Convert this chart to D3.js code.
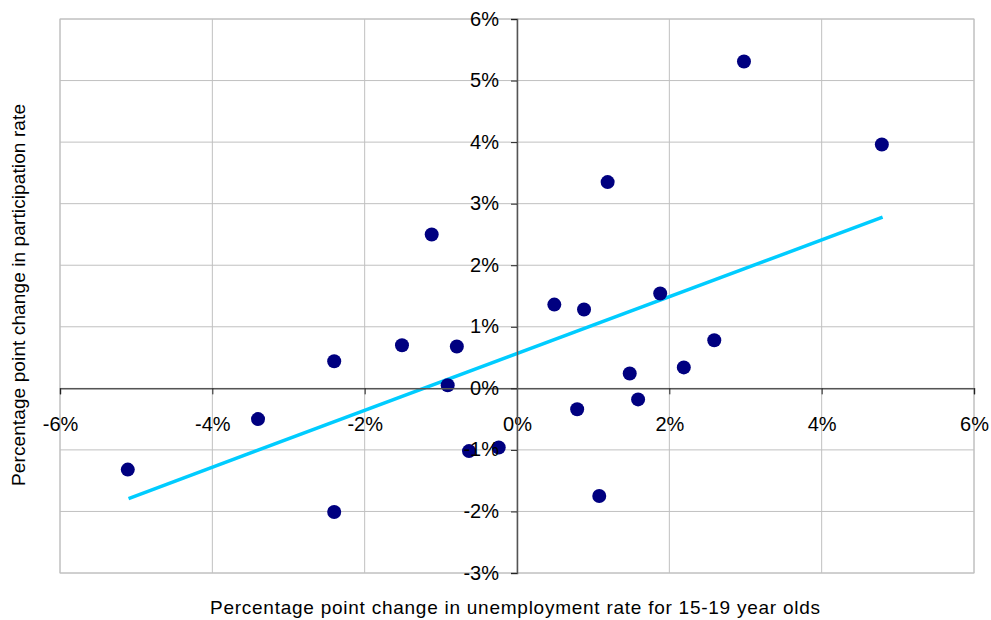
<!DOCTYPE html>
<html>
<head>
<meta charset="utf-8">
<script src="https://cdn.jsdelivr.net/npm/d3@7"></script>
<style>
  body { margin: 0; background: #fff; }
  text { font-family: "Liberation Sans", Arial, sans-serif; fill: #000; }
</style>
</head>
<body>
<div class="chart"></div>
<script>
// change in unemployment rate for 15-19 year olds (percentage points)
const unempChange = [-5.11, -3.40, -2.40, -2.40, -1.51, -1.12, -0.91, -0.79, -0.63, -0.24,
  0.49, 0.79, 0.88, 1.08, 1.19, 1.48, 1.59, 1.88, 2.19, 2.59, 2.98, 4.79];
// change in participation rate (percentage points)
const partChange = [-1.32, -0.50, -2.01, 0.44, 0.70, 2.50, 0.05, 0.68, -1.02, -0.96,
  1.36, -0.34, 1.28, -1.75, 3.35, 0.24, -0.18, 1.54, 0.34, 0.78, 5.31, 3.96];
// fitted trend line end points
const trendX = [-5.1, 4.8];
const trendY = [-1.79, 2.78];

const xTicks = [-6, -4, -2, 0, 2, 4, 6];
const yTicks = [-3, -2, -1, 0, 1, 2, 3, 4, 5, 6];

const W = 991, H = 620;
const margin = { top: 19, left: 60, right: 17, bottom: 47 };
const width = W - margin.left - margin.right;
const height = H - margin.top - margin.bottom;

const svg = d3.select(".chart").append("svg")
  .attr("width", W).attr("height", H);

const g = svg.append("g")
  .attr("transform", `translate(${margin.left}, ${margin.top})`);

const x = d3.scaleLinear().domain([-6, 6]).range([0, width]);
const y = d3.scaleLinear().domain([-3, 6]).range([height, 0]);

// grid
g.append("g").selectAll("line").data(yTicks).join("line")
  .attr("x1", 0).attr("x2", width)
  .attr("y1", d => y(d)).attr("y2", d => y(d))
  .attr("stroke", "#c0c0c0").attr("stroke-width", 1);
g.append("g").selectAll("line").data(xTicks).join("line")
  .attr("y1", 0).attr("y2", height)
  .attr("x1", d => x(d)).attr("x2", d => x(d))
  .attr("stroke", "#c0c0c0").attr("stroke-width", 1);
g.append("rect").attr("width", width).attr("height", height)
  .attr("fill", "none").attr("stroke", "#c0c0c0");

// axes crossing at zero
const fmt = d => d + "%";
const xAxis = g.append("g")
  .attr("transform", `translate(0, ${y(0)})`)
  .call(d3.axisBottom(x).tickValues(xTicks).tickFormat(fmt).tickSize(6).tickPadding(22));
const yAxis = g.append("g")
  .attr("transform", `translate(${x(0)}, 0)`)
  .call(d3.axisLeft(y).tickValues(yTicks).tickFormat(fmt).tickSize(6).tickPadding(12));

[xAxis, yAxis].forEach(a => {
  a.select(".domain").attr("stroke", "#555").attr("stroke-width", 1.5);
  a.selectAll(".tick line").attr("stroke", "#222");
  a.selectAll("text").attr("font-size", 20)
    .attr("font-family", "Liberation Sans, Arial, sans-serif").attr("fill", "#000");
});
yAxis.selectAll("text").attr("dy", "0.3em");

// trend line
g.append("line")
  .attr("x1", x(trendX[0])).attr("y1", y(trendY[0]))
  .attr("x2", x(trendX[1])).attr("y2", y(trendY[1]))
  .attr("stroke", "#00ccff").attr("stroke-width", 3.5);

// points
g.append("g").selectAll("circle").data(unempChange).join("circle")
  .attr("cx", d => x(d))
  .attr("cy", (d, i) => y(partChange[i]))
  .attr("r", 7)
  .attr("fill", "#000080");

// keep tick labels above points, like the original
xAxis.raise(); yAxis.raise();

// titles
svg.append("text")
  .attr("x", 515).attr("y", 614)
  .attr("text-anchor", "middle")
  .attr("font-size", 19)
  .attr("textLength", 610)
  .text("Percentage point change in unemployment rate for 15-19 year olds");

svg.append("text")
  .attr("transform", "translate(25, 295) rotate(-90)")
  .attr("text-anchor", "middle")
  .attr("font-size", 19)
  .attr("textLength", 382)
  .text("Percentage point change in participation rate");
</script>
</body>
</html>
